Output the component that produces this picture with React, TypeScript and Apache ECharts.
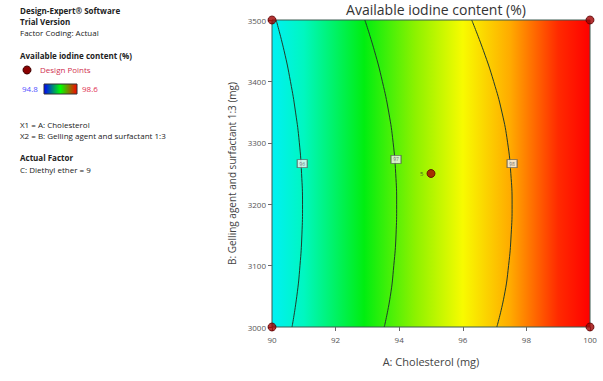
import React, { useEffect, useRef } from "react";
import * as echarts from "echarts";

const bLevels = [3000, 3050, 3100, 3150, 3200, 3250, 3300, 3350, 3400, 3450, 3500];
const contour96 = [90.63, 90.78, 90.88, 90.94, 90.96, 90.93, 90.86, 90.74, 90.58, 90.38, 90.13];
const contour97 = [93.53, 93.72, 93.83, 93.9, 93.92, 93.89, 93.81, 93.67, 93.47, 93.22, 92.92];
const contour98 = [97.07, 97.3, 97.44, 97.52, 97.55, 97.51, 97.41, 97.23, 96.97, 96.65, 96.28];
const contourLevels = ["96", "97", "98"];
const contourLabelPos: [number, number][] = [[90.95, 3266], [93.9, 3273], [97.55, 3266]];
const designA = [90, 90, 100, 100, 95];
const designB = [3000, 3500, 3000, 3500, 3250];
const designReps = ["", "", "", "", "5"];
const xTicks = [90, 92, 94, 96, 98, 100];
const yTicks = [3000, 3100, 3200, 3300, 3400, 3500];

const FONT = "Open Sans";

export default function App() {
  const ref = useRef<HTMLDivElement>(null);
  useEffect(() => {
    const chart = echarts.init(ref.current!, null, { renderer: "svg" });
    const contours = [contour96, contour97, contour98];
    const lineSeries = contours.map((c, i) => ({
      type: "line",
      name: "c" + contourLevels[i],
      data: c.map((a, j) => [a, bLevels[j]]),
      smooth: true,
      symbol: "none",
      lineStyle: { color: "#1f3b2c", width: 1 },
      z: 3,
    }));
    const leftText = (y: number, text: string, bold = false, color = "#222", x = 20) => ({
      type: "text",
      left: x,
      top: y,
      style: { text, fill: color, font: `${bold ? "bold " : ""}8px '${FONT}'` },
    });
    chart.setOption({
      animation: false,
      title: {
        text: "Available iodine content (%)",
        left: 431,
        textAlign: "center",
        top: -3,
        textStyle: { fontFamily: FONT, fontSize: 14, fontWeight: "normal", color: "#333" },
      },
      grid: {
        left: 272,
        right: 13,
        top: 20,
        bottom: 54,
        show: true,
        borderColor: "#3a5a50",
        borderWidth: 1,
        backgroundColor: new echarts.graphic.LinearGradient(0, 0, 1, 0, [
          { offset: 0, color: "#00f0f4" },
          { offset: 0.1, color: "#00f7c0" },
          { offset: 0.29, color: "#00ee10" },
          { offset: 0.45, color: "#8cf200" },
          { offset: 0.6, color: "#f8fb00" },
          { offset: 0.75, color: "#ffaa00" },
          { offset: 0.9, color: "#ff2a00" },
          { offset: 1, color: "#ff0000" },
        ]),
      },
      xAxis: {
        type: "value",
        min: 90,
        max: 100,
        interval: 2,
        name: "A: Cholesterol (mg)",
        nameLocation: "middle",
        nameGap: 29,
        nameTextStyle: { fontFamily: FONT, fontSize: 11, color: "#444" },
        axisLine: { show: false },
        axisTick: { show: true, length: 4, lineStyle: { color: "#666" } },
        axisLabel: {
          fontFamily: FONT,
          fontSize: 8,
          color: "#555",
          margin: 8,
          formatter: (v: number) => (xTicks.includes(v) ? String(v) : ""),
        },
        splitLine: { show: false },
      },
      yAxis: {
        type: "value",
        min: 3000,
        max: 3500,
        interval: 100,
        name: "B: Gelling agent and surfactant 1:3 (mg)",
        nameLocation: "middle",
        nameGap: 28,
        nameTextStyle: { fontFamily: FONT, fontSize: 10, color: "#444" },
        axisLine: { show: false },
        axisTick: { show: true, length: 4, lineStyle: { color: "#666" } },
        axisLabel: {
          fontFamily: FONT,
          fontSize: 8,
          color: "#555",
          margin: 6,
          formatter: (v: number) => (yTicks.includes(v) ? String(v) : ""),
        },
        splitLine: { show: false },
      },
      series: [
        ...lineSeries,
        {
          type: "scatter",
          name: "labels",
          data: contourLabelPos.map((p) => p),
          symbol: "rect",
          symbolSize: [10, 8],
          itemStyle: { color: "#f4f4f4", borderColor: "#555", borderWidth: 1 },
          label: {
            show: true,
            position: "inside",
            formatter: (p: any) => contourLevels[p.dataIndex],
            fontSize: 5,
            color: "#555",
            fontFamily: FONT,
          },
          z: 4,
        },
        {
          type: "scatter",
          name: "Design Points",
          data: designA.map((a, i) => [a, designB[i]]),
          symbol: "circle",
          symbolSize: 8,
          itemStyle: { color: "#a00000", borderColor: "#5a0000", borderWidth: 1 },
          label: {
            show: true,
            position: "left",
            distance: 3,
            formatter: (p: any) => designReps[p.dataIndex],
            fontSize: 6,
            color: "#333",
            fontFamily: FONT,
          },
          clip: false,
          z: 5,
        },
      ],
      graphic: [
        leftText(6, "Design-Expert® Software", true),
        leftText(17, "Trial Version", true),
        leftText(28, "Factor Coding: Actual"),
        leftText(51, "Available iodine content (%)", true),
        {
          type: "circle",
          shape: { cx: 27, cy: 70, r: 4 },
          style: { fill: "#8b0000", stroke: "#400000", lineWidth: 1 },
        },
        leftText(65, "Design Points", false, "#d03050", 40),
        leftText(84, "94.8", false, "#5050ff", 22),
        {
          type: "rect",
          shape: { x: 44, y: 84, width: 33, height: 10 },
          style: {
            fill: new echarts.graphic.LinearGradient(0, 0, 1, 0, [
              { offset: 0, color: "#0000ff" },
              { offset: 0.5, color: "#00ff00" },
              { offset: 1, color: "#ff0000" },
            ]),
            stroke: "#333",
            lineWidth: 1,
          },
        },
        leftText(84, "98.6", false, "#e03050", 82),
        leftText(120, "X1 = A: Cholesterol"),
        leftText(131, "X2 = B: Gelling agent and surfactant 1:3"),
        leftText(153, "Actual Factor", true),
        leftText(165, "C: Diethyl ether = 9"),
      ],
    });
    return () => chart.dispose();
  }, []);
  return <div ref={ref} style={{ width: 603, height: 381, position: "absolute", left: 0, top: 0 }} />;
}
